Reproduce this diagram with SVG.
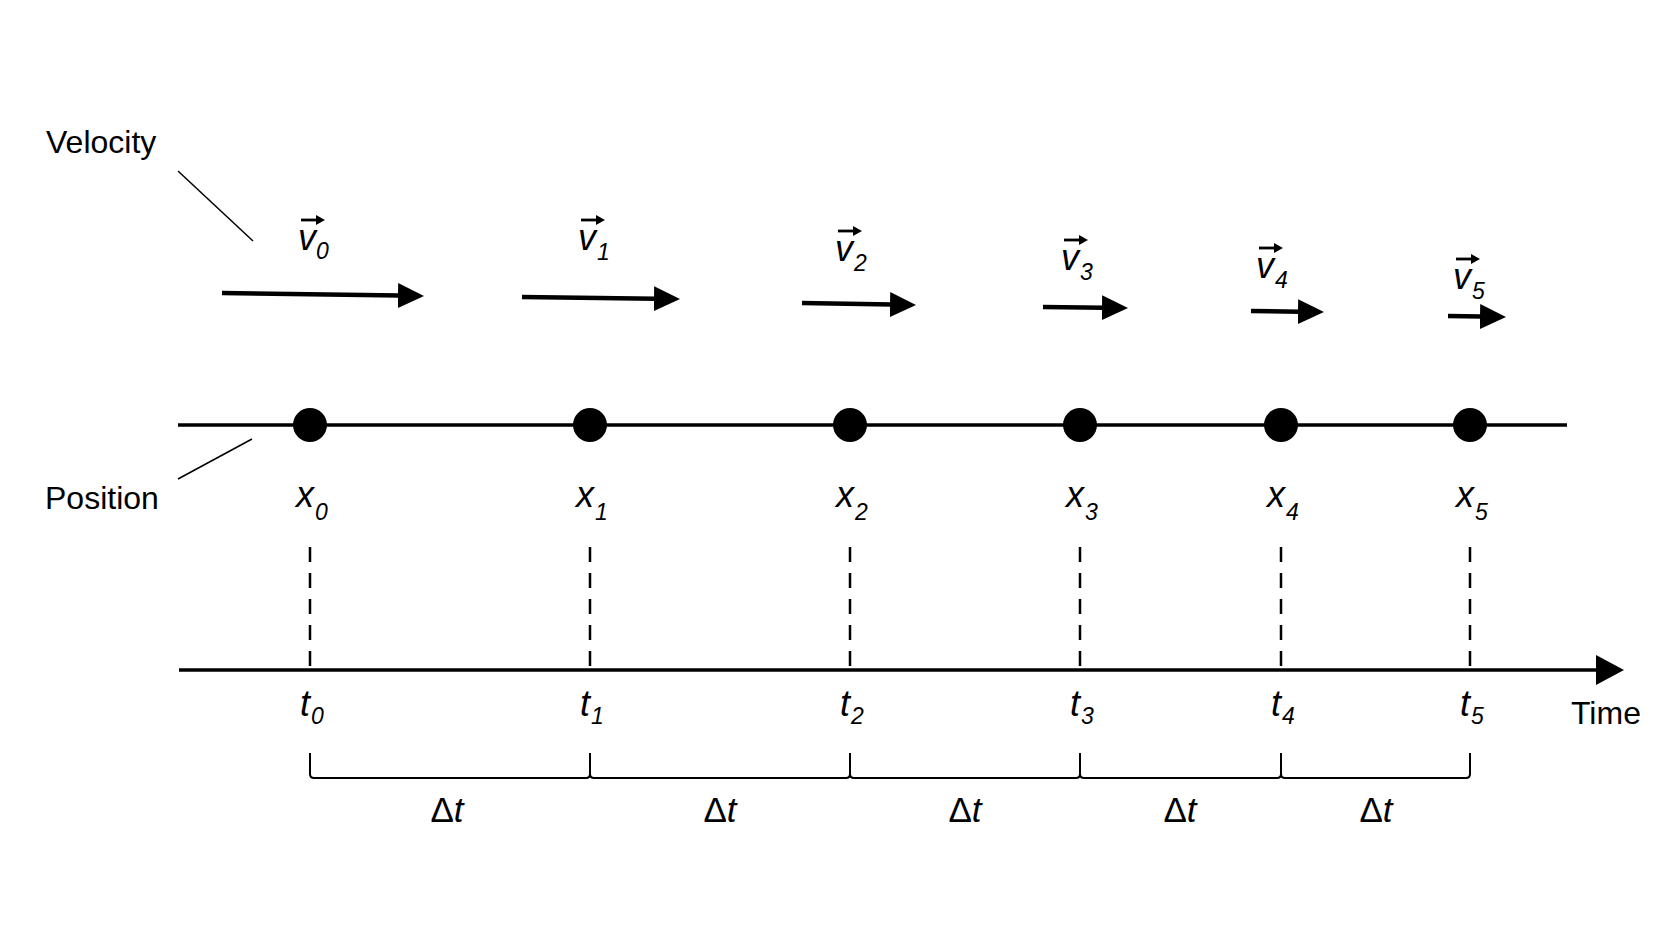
<svg xmlns="http://www.w3.org/2000/svg" width="1672" height="941" viewBox="0 0 1672 941">
<style>
.lbl{font-family:"Liberation Sans",Arial,sans-serif;font-size:32px;fill:#000}
.it{font-family:"Liberation Sans",Arial,sans-serif;font-style:italic;font-size:36px;fill:#000}
.sub{font-size:23px}
.dt{font-family:"Liberation Sans",Arial,sans-serif;font-size:35px;fill:#000}
.vel{stroke:#000;stroke-width:4.5;fill:none;marker-end:url(#ah)}
.thin{stroke:#000;stroke-width:1.5;fill:none}
.axis{stroke:#000;stroke-width:3.5;fill:none}
.dash{stroke:#000;stroke-width:2.5;stroke-dasharray:15 11;fill:none}
.brk{stroke:#000;stroke-width:2;fill:none}
.vec{stroke:#000;stroke-width:2.8;fill:none}
</style>
<defs>
<marker id="ah" markerUnits="userSpaceOnUse" markerWidth="28" markerHeight="26" refX="2" refY="12.5" orient="auto" viewBox="0 0 28 26">
<path d="M0,0 L26,12.5 L0,25 z" fill="#000"/>
</marker>
<marker id="th" markerUnits="userSpaceOnUse" markerWidth="30" markerHeight="32" refX="2" refY="15" orient="auto" viewBox="0 0 30 32">
<path d="M0,0 L28,15 L0,30 z" fill="#000"/>
</marker>
<path id="varr" d="M0,0 L9,-5 L9,5 z" fill="#000"/>
</defs>
<rect width="1672" height="941" fill="#ffffff"/>

<g id="labels">
<text class="lbl" x="46" y="153">Velocity</text>
<text class="lbl" x="45" y="509">Position</text>
<text class="lbl" x="1571" y="724">Time</text>
</g>

<g id="connectors">
<line class="thin" x1="178" y1="171" x2="253" y2="241"/>
<line class="thin" x1="178" y1="479" x2="252" y2="439"/>
<line class="axis" x1="178" y1="425" x2="1567" y2="425"/>
<line class="axis" x1="179" y1="670" x2="1598" y2="670" marker-end="url(#th)"/>
<line class="dash" x1="310" y1="547" x2="310" y2="670"/>
<line class="dash" x1="590" y1="547" x2="590" y2="670"/>
<line class="dash" x1="850" y1="547" x2="850" y2="670"/>
<line class="dash" x1="1080" y1="547" x2="1080" y2="670"/>
<line class="dash" x1="1281" y1="547" x2="1281" y2="670"/>
<line class="dash" x1="1470" y1="547" x2="1470" y2="670"/>
<path class="brk" d="M310,753 V774 Q310,778 314,778 H586 Q590,778 590,774 V753 M590,774 Q590,778 594,778 H846 Q850,778 850,774 V753 M850,774 Q850,778 854,778 H1076 Q1080,778 1080,774 V753 M1080,774 Q1080,778 1084,778 H1277 Q1281,778 1281,774 V753 M1281,774 Q1281,778 1285,778 H1466 Q1470,778 1470,774 V753"/>
</g>

<g id="velocity-arrows">
<line class="vel" x1="222" y1="293" x2="400" y2="295.6"/>
<line class="vel" x1="522" y1="297" x2="656" y2="298.7"/>
<line class="vel" x1="802" y1="303" x2="892" y2="304.6"/>
<line class="vel" x1="1043" y1="307" x2="1104" y2="307.7"/>
<line class="vel" x1="1251" y1="311" x2="1300" y2="311.7"/>
<line class="vel" x1="1448" y1="316" x2="1482" y2="316.6"/>
</g>

<g id="node-0">
<circle cx="310" cy="425" r="17" fill="#000"/>
<line class="vec" x1="301" y1="220" x2="317" y2="220"/><use href="#varr" transform="translate(325,220) scale(-1,1)"/>
<text class="it" x="298" y="250">v<tspan class="sub" x="316" y="259">0</tspan></text>
<text class="it" x="296" y="507">x<tspan class="sub" x="315" y="520">0</tspan></text>
<text class="it" x="300" y="716">t<tspan class="sub" x="311" y="724">0</tspan></text>
</g>
<g id="node-1">
<circle cx="590" cy="425" r="17" fill="#000"/>
<line class="vec" x1="581" y1="220" x2="597" y2="220"/><use href="#varr" transform="translate(605,220) scale(-1,1)"/>
<text class="it" x="578" y="250">v<tspan class="sub" x="597" y="260">1</tspan></text>
<text class="it" x="576" y="507">x<tspan class="sub" x="595" y="520">1</tspan></text>
<text class="it" x="580" y="716">t<tspan class="sub" x="591" y="724">1</tspan></text>
</g>
<g id="node-2">
<circle cx="850" cy="425" r="17" fill="#000"/>
<line class="vec" x1="838" y1="231" x2="854" y2="231"/><use href="#varr" transform="translate(862,231) scale(-1,1)"/>
<text class="it" x="835" y="261">v<tspan class="sub" x="854" y="271">2</tspan></text>
<text class="it" x="836" y="507">x<tspan class="sub" x="855" y="520">2</tspan></text>
<text class="it" x="840" y="716">t<tspan class="sub" x="851" y="724">2</tspan></text>
</g>
<g id="node-3">
<circle cx="1080" cy="425" r="17" fill="#000"/>
<line class="vec" x1="1064" y1="240" x2="1080" y2="240"/><use href="#varr" transform="translate(1088,240) scale(-1,1)"/>
<text class="it" x="1061" y="270">v<tspan class="sub" x="1080" y="280">3</tspan></text>
<text class="it" x="1066" y="507">x<tspan class="sub" x="1085" y="520">3</tspan></text>
<text class="it" x="1070" y="716">t<tspan class="sub" x="1081" y="724">3</tspan></text>
</g>
<g id="node-4">
<circle cx="1281" cy="425" r="17" fill="#000"/>
<line class="vec" x1="1259" y1="248" x2="1275" y2="248"/><use href="#varr" transform="translate(1283,248) scale(-1,1)"/>
<text class="it" x="1256" y="278">v<tspan class="sub" x="1275" y="288">4</tspan></text>
<text class="it" x="1267" y="507">x<tspan class="sub" x="1286" y="520">4</tspan></text>
<text class="it" x="1271" y="716">t<tspan class="sub" x="1282" y="724">4</tspan></text>
</g>
<g id="node-5">
<circle cx="1470" cy="425" r="17" fill="#000"/>
<line class="vec" x1="1456" y1="259" x2="1472" y2="259"/><use href="#varr" transform="translate(1480,259) scale(-1,1)"/>
<text class="it" x="1453" y="289">v<tspan class="sub" x="1472" y="299">5</tspan></text>
<text class="it" x="1456" y="507">x<tspan class="sub" x="1475" y="520">5</tspan></text>
<text class="it" x="1460" y="716">t<tspan class="sub" x="1471" y="724">5</tspan></text>
</g>

<g id="intervals">
<text class="dt" x="447" y="822" text-anchor="middle">Δ<tspan font-style="italic">t</tspan></text>
<text class="dt" x="720" y="822" text-anchor="middle">Δ<tspan font-style="italic">t</tspan></text>
<text class="dt" x="965" y="822" text-anchor="middle">Δ<tspan font-style="italic">t</tspan></text>
<text class="dt" x="1180" y="822" text-anchor="middle">Δ<tspan font-style="italic">t</tspan></text>
<text class="dt" x="1376" y="822" text-anchor="middle">Δ<tspan font-style="italic">t</tspan></text>
</g>
</svg>
